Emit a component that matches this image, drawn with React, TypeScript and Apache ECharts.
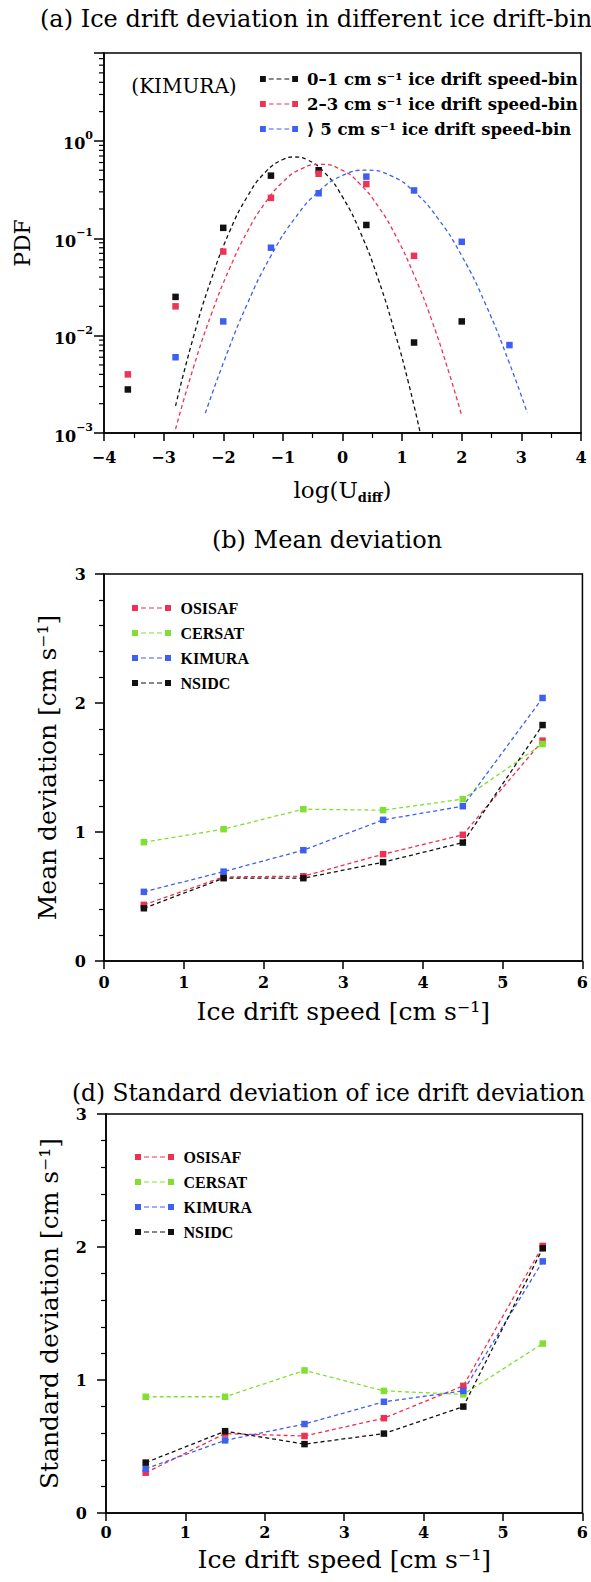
import React, { useEffect, useRef } from 'react';
import * as echarts from 'echarts';

const SERIF = '"DejaVu Serif", serif';
const TIMES = '"Liberation Serif", serif';

// ---------- Panel (a) ----------
const binNames = [
  '0–1 cm s⁻¹ ice drift speed-bin',
  '2–3 cm s⁻¹ ice drift speed-bin',
  '⟩ 5 cm s⁻¹ ice drift speed-bin',
];
const binColors = ['#111111', '#ee3355', '#3f5ff0'];

const pdfBin01 = [[-3.6, 0.0028], [-2.8, 0.025], [-2.0, 0.128], [-1.2, 0.44], [-0.4, 0.5], [0.4, 0.137], [1.2, 0.0085], [2.0, 0.014]];
const pdfBin23 = [[-3.6, 0.004], [-2.8, 0.02], [-2.0, 0.073], [-1.2, 0.26], [-0.4, 0.46], [0.4, 0.36], [1.2, 0.066]];
const pdfBin5 = [[-2.8, 0.006], [-2.0, 0.014], [-1.2, 0.08], [-0.4, 0.29], [0.4, 0.43], [1.2, 0.31], [2.0, 0.092], [2.8, 0.008]];

const fitX01 = [-2.8, -2.5, -2.2, -1.9, -1.6, -1.3, -1.0, -0.8, -0.6, -0.3, 0, 0.3, 0.6, 0.9, 1.1, 1.3];
const fitY01 = [0.0019, 0.0097, 0.038, 0.115, 0.266, 0.473, 0.644, 0.684, 0.644, 0.473, 0.266, 0.115, 0.038, 0.0097, 0.0034, 0.00103];
const fitX23 = [-2.8, -2.5, -2.2, -1.9, -1.6, -1.3, -1.0, -0.7, -0.37, 0, 0.3, 0.6, 0.9, 1.2, 1.5, 1.8, 2.0];
const fitY23 = [0.0011, 0.0047, 0.0166, 0.048, 0.116, 0.23, 0.378, 0.513, 0.575, 0.498, 0.357, 0.212, 0.104, 0.042, 0.0142, 0.0039, 0.0015];
const fitX5 = [-2.3, -2.0, -1.6, -1.2, -0.8, -0.4, 0, 0.4, 0.8, 1.2, 1.6, 2.0, 2.4, 2.8, 3.1];
const fitY5 = [0.0016, 0.0052, 0.021, 0.066, 0.16, 0.302, 0.442, 0.501, 0.442, 0.302, 0.16, 0.066, 0.021, 0.0052, 0.0016];

const logMinorTicks = [
  0.002, 0.003, 0.004, 0.005, 0.006, 0.007, 0.008, 0.009,
  0.02, 0.03, 0.04, 0.05, 0.06, 0.07, 0.08, 0.09,
  0.2, 0.3, 0.4, 0.5, 0.6, 0.7, 0.8, 0.9,
  2, 3, 4, 5, 6, 7,
];

// ---------- Panels (b) and (d) ----------
const productNames = ['OSISAF', 'CERSAT', 'KIMURA', 'NSIDC'];
const productColors = ['#f0304f', '#80e030', '#3f5ff0', '#111111'];
const speeds = [0.5, 1.5, 2.5, 3.5, 4.5, 5.5];

const meanDev = [
  [0.435, 0.652, 0.657, 0.828, 0.978, 1.708], // OSISAF
  [0.921, 1.022, 1.177, 1.169, 1.255, 1.682], // CERSAT
  [0.536, 0.693, 0.859, 1.094, 1.2, 2.039], // KIMURA
  [0.409, 0.642, 0.642, 0.766, 0.918, 1.829], // NSIDC
];
const stdDev = [
  [0.303, 0.597, 0.579, 0.713, 0.956, 2.008], // OSISAF
  [0.874, 0.874, 1.072, 0.918, 0.892, 1.274], // CERSAT
  [0.333, 0.546, 0.669, 0.836, 0.918, 1.892], // KIMURA
  [0.379, 0.615, 0.518, 0.597, 0.8, 1.99], // NSIDC
];

const legendIcon = 'path://M0,0h6v6h-6z M9,2.5h5v1h-5z M17,2.5h5v1h-5z M25,2.5h5v1h-5z M33,0h6v6h-6z';

const supMap: Record<string, string> = { '-': '−' };

function buildOption() {
  const black = '#000';
  const axisLine = { show: true, onZero: false, lineStyle: { color: black, width: 1.5 } };
  const axisTick = { show: true, inside: false, length: 9, lineStyle: { color: black, width: 1.5 } };
  const labelBase = { color: black, fontFamily: SERIF, fontSize: 16, fontWeight: 'bold', lineHeight: 20 };
  const gridBase = { show: true, borderColor: black, borderWidth: 1.5, backgroundColor: 'transparent' };

  const grids = [
    { ...gridBase, left: 104, top: 53, width: 477, height: 380 },
    { ...gridBase, left: 104, top: 574, width: 485, height: 387 },
    { ...gridBase, left: 106, top: 1114, width: 487, height: 399 },
  ];

  const xAxes: any[] = [
    {
      gridIndex: 0, type: 'value', min: -4, max: 4, interval: 1,
      axisLine, axisTick: { ...axisTick, length: 8 },
      minorTick: { show: true, splitNumber: 2, length: 5, lineStyle: { color: black, width: 1.2 } },
      splitLine: { show: false },
      axisLabel: { ...labelBase, margin: 14, formatter: (v: number) => (v < 0 ? '−' + -v : String(v)) },
      name: 'log(U{sub|diff})', nameLocation: 'middle', nameGap: 43,
      nameTextStyle: {
        color: black, fontFamily: SERIF, fontSize: 23, lineHeight: 28,
        rich: { sub: { fontFamily: SERIF, fontSize: 13, fontWeight: 'bold', lineHeight: 14, verticalAlign: 'bottom', color: black } },
      },
    },
    {
      gridIndex: 1, type: 'value', min: 0, max: 6, interval: 1,
      axisLine, axisTick: { ...axisTick, length: 8 }, splitLine: { show: false },
      axisLabel: { ...labelBase, margin: 11 },
      name: 'Ice drift speed [cm s⁻¹]', nameLocation: 'middle', nameGap: 35,
      nameTextStyle: { color: black, fontFamily: SERIF, fontSize: 25, lineHeight: 30 },
    },
    {
      gridIndex: 2, type: 'value', min: 0, max: 6, interval: 1,
      axisLine, axisTick: { ...axisTick, length: 8 }, splitLine: { show: false },
      axisLabel: { ...labelBase, margin: 9 },
      name: 'Ice drift speed [cm s⁻¹]', nameLocation: 'middle', nameGap: 31,
      nameTextStyle: { color: black, fontFamily: SERIF, fontSize: 25, lineHeight: 30 },
    },
  ];

  const yAxes: any[] = [
    {
      gridIndex: 0, type: 'log', logBase: 10, min: 0.001, max: 8,
      axisLine, axisTick: { ...axisTick, length: 10 }, splitLine: { show: false },
      axisLabel: {
        color: black, margin: 11,
        formatter: (v: number) => {
          const l = Math.log10(v);
          const e = Math.round(l);
          if (Math.abs(l - e) > 1e-6) return '';
          const es = String(e).split('').map((c) => supMap[c] || c).join('');
          return '{b|10}{s|' + es + '}';
        },
        rich: {
          b: { fontFamily: SERIF, fontSize: 16, fontWeight: 'bold', lineHeight: 22, verticalAlign: 'bottom', color: black },
          s: { fontFamily: SERIF, fontSize: 11, fontWeight: 'bold', lineHeight: 13, verticalAlign: 'top', color: black },
        },
      },
      name: 'PDF', nameLocation: 'middle', nameGap: 69, nameRotate: 90,
      nameTextStyle: { color: black, fontFamily: SERIF, fontSize: 22, lineHeight: 26 },
    },
    {
      gridIndex: 1, type: 'value', min: 0, max: 3, interval: 1,
      axisLine, axisTick, splitLine: { show: false },
      minorTick: { show: true, splitNumber: 5, length: 5, lineStyle: { color: black, width: 1.2 } },
      axisLabel: { ...labelBase, margin: 18 },
      name: 'Mean deviation [cm s⁻¹]', nameLocation: 'middle', nameGap: 42, nameRotate: 90,
      nameTextStyle: { color: black, fontFamily: SERIF, fontSize: 25, lineHeight: 30 },
    },
    {
      gridIndex: 2, type: 'value', min: 0, max: 3, interval: 1,
      axisLine, axisTick, splitLine: { show: false },
      minorTick: { show: true, splitNumber: 5, length: 5, lineStyle: { color: black, width: 1.2 } },
      axisLabel: { ...labelBase, margin: 19 },
      name: 'Standard deviation [cm s⁻¹]', nameLocation: 'middle', nameGap: 40, nameRotate: 90,
      nameTextStyle: { color: black, fontFamily: SERIF, fontSize: 25, lineHeight: 30 },
    },
  ];

  const series: any[] = [];

  // log minor ticks on panel (a) y axis
  series.push({
    type: 'custom', xAxisIndex: 0, yAxisIndex: 0, silent: true, clip: false,
    data: logMinorTicks.map((v) => [-4, v]),
    renderItem: (_p: any, api: any) => {
      const pt = api.coord([api.value(0), api.value(1)]);
      return {
        type: 'line',
        shape: { x1: pt[0] - 5, y1: pt[1], x2: pt[0], y2: pt[1] },
        style: { stroke: black, lineWidth: 1.2 },
      };
    },
  });

  const fits = [
    [fitX01, fitY01],
    [fitX23, fitY23],
    [fitX5, fitY5],
  ];
  fits.forEach(([xs, ys], i) => {
    series.push({
      type: 'line', name: binNames[i], xAxisIndex: 0, yAxisIndex: 0,
      data: xs.map((x, k) => [x, ys[k]]),
      smooth: true, showSymbol: false, symbol: 'none',
      lineStyle: { color: binColors[i], width: 1.3, type: [4, 3] },
      itemStyle: { color: binColors[i] },
      z: 2,
    });
  });
  [pdfBin01, pdfBin23, pdfBin5].forEach((pts, i) => {
    series.push({
      type: 'scatter', name: binNames[i], xAxisIndex: 0, yAxisIndex: 0,
      data: pts, symbol: 'rect', symbolSize: 6.5,
      itemStyle: { color: binColors[i], opacity: 1 },
      z: 3,
    });
  });

  [meanDev, stdDev].forEach((set, gi) => {
    set.forEach((vals, i) => {
      series.push({
        type: 'line', name: productNames[i], xAxisIndex: gi + 1, yAxisIndex: gi + 1,
        data: speeds.map((s, k) => [s, vals[k]]),
        symbol: 'rect', symbolSize: 6.5, showSymbol: true,
        lineStyle: { color: productColors[i], width: 1.3, type: [4, 3] },
        itemStyle: { color: productColors[i], borderWidth: 0 },
      });
    });
  });

  const legendCommon = {
    orient: 'vertical', icon: legendIcon, itemWidth: 38, itemHeight: 6, itemGap: 5,
    selectedMode: false, padding: 0,
    itemStyle: { borderWidth: 0 },
  };

  const legends = [
    {
      ...legendCommon, left: 260, top: 69, data: binNames,
      textStyle: { fontFamily: SERIF, fontSize: 16.5, fontWeight: 'bold', lineHeight: 20, color: black, padding: [0, 0, 0, 4] },
    },
    {
      ...legendCommon, left: 132, top: 598, itemWidth: 40, data: productNames,
      textStyle: { fontFamily: TIMES, fontSize: 16, fontWeight: 'bold', lineHeight: 20, color: black, padding: [0, 0, 0, 4] },
    },
    {
      ...legendCommon, left: 135, top: 1147, itemWidth: 40, data: productNames,
      textStyle: { fontFamily: TIMES, fontSize: 16, fontWeight: 'bold', lineHeight: 20, color: black, padding: [0, 0, 0, 4] },
    },
  ];

  const titleText = (text: string, x: number, y: number, align: string, size: number) => ({
    type: 'text', x, y, silent: true,
    style: { text, fill: black, font: size + 'px ' + SERIF, align, verticalAlign: 'middle' },
  });

  return {
    animation: false,
    backgroundColor: '#ffffff',
    grid: grids,
    xAxis: xAxes,
    yAxis: yAxes,
    legend: legends,
    series,
    graphic: [
      titleText('(a) Ice drift deviation in different ice drift-bin', 40, 19, 'left', 24),
      titleText('(b) Mean deviation', 327, 540, 'center', 24),
      titleText('(d) Standard deviation of ice drift deviation', 72, 1092, 'left', 23.3),
      {
        type: 'text', x: 184, y: 86, silent: true,
        style: { text: '(KIMURA)', fill: black, font: '20px ' + SERIF, align: 'center', verticalAlign: 'middle' },
      },
    ],
  };
}

export default function App() {
  const ref = useRef<HTMLDivElement>(null);
  useEffect(() => {
    if (!ref.current) return;
    const chart = echarts.init(ref.current, null, { renderer: 'svg' });
    chart.setOption(buildOption() as any);
    return () => chart.dispose();
  }, []);
  return (
    <div
      ref={ref}
      style={{ position: 'absolute', left: 0, top: 0, width: 591, height: 1582, background: '#fff' }}
    />
  );
}
